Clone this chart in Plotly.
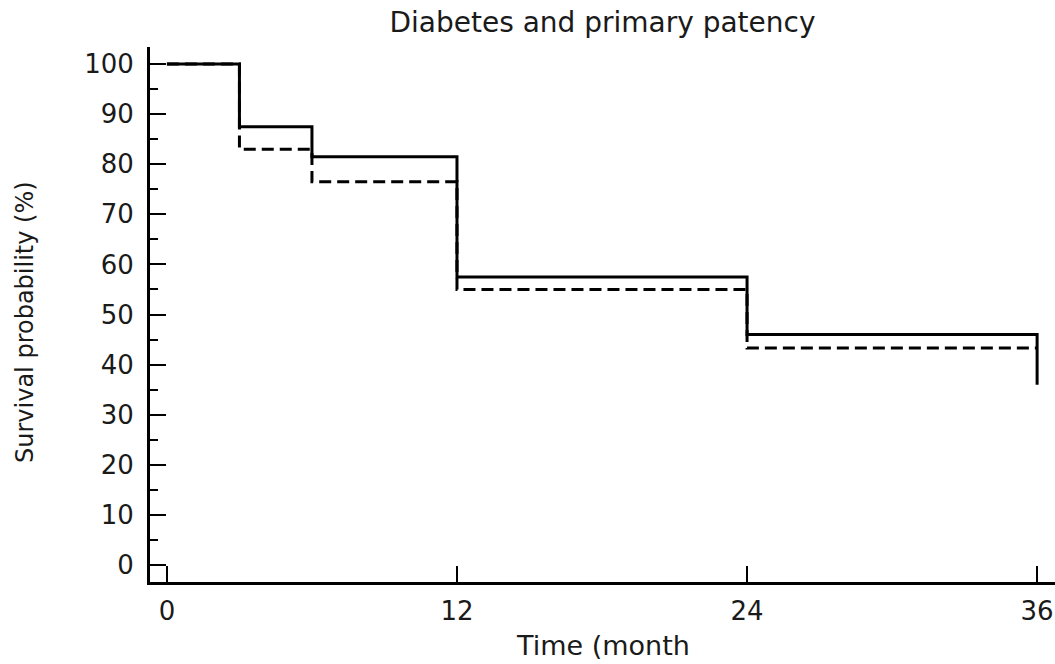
import plotly.graph_objects as go

# Kaplan-Meier style step data (time in months, survival %)
solid_time = [0, 3, 6, 12, 24, 36, 36]
solid_surv = [100, 87.5, 81.5, 57.5, 46, 46, 36]

dashed_time = [0, 3, 6, 12, 24, 36]
dashed_surv = [100, 83, 76.5, 55, 43.3, 43.3]

x_ticks = [0, 12, 24, 36]
y_ticks = list(range(0, 101, 10))

title_text = "Diabetes and primary patency"
x_title = "Time (month"
y_title = "Survival probability (%)"

FONT = "DejaVu Sans, Verdana, sans-serif"
TXT = "#1a1a1a"
FS = 26

fig = go.Figure()
fig.add_trace(go.Scatter(
    x=dashed_time, y=dashed_surv, mode="lines", line_shape="hv",
    line=dict(color="black", width=3, dash="12px,6px"), showlegend=False))
fig.add_trace(go.Scatter(
    x=solid_time, y=solid_surv, mode="lines", line_shape="hv",
    line=dict(color="black", width=3), showlegend=False))

fig.update_layout(
    width=1055, height=664,
    margin=dict(l=150, r=0, t=47, b=82),
    paper_bgcolor="white", plot_bgcolor="white",
    font=dict(family=FONT, size=FS, color=TXT),
    title=dict(text=title_text, x=0.5, xref="paper", y=1 - 22 / 664,
               yanchor="middle", xanchor="center",
               font=dict(family=FONT, size=28, color=TXT)),
    showlegend=False,
)

fig.update_xaxes(
    range=[-0.70, 36.74], tickvals=x_ticks, ticktext=[str(v) for v in x_ticks],
    ticks="inside", ticklen=16, tickwidth=2, tickcolor="black",
    showline=True, linecolor="black", linewidth=3,
    showgrid=False, zeroline=False,
    tickfont=dict(family=FONT, size=FS, color=TXT),
    ticklabelstandoff=4,
)
fig.update_yaxes(
    range=[-3.39, 103.4], tickvals=y_ticks, ticktext=[str(v) for v in y_ticks],
    ticks="inside", ticklen=16, tickwidth=2, tickcolor="black",
    minor=dict(ticks="inside", ticklen=8, tickwidth=2, tickcolor="black", dtick=5, tick0=0, showgrid=False),
    showline=True, linecolor="black", linewidth=3,
    showgrid=False, zeroline=False,
    tickfont=dict(family=FONT, size=FS, color=TXT),
    ticklabelstandoff=8,
)

fig.add_annotation(text=x_title, xref="paper", yref="paper", x=0.5, y=0,
                   xanchor="center", yanchor="middle", yshift=-63, showarrow=False,
                   font=dict(family=FONT, size=27, color=TXT))
fig.add_annotation(text=y_title, xref="paper", yref="paper", x=0, y=0.486,
                   xanchor="center", yanchor="middle", xshift=-125, textangle=-90,
                   showarrow=False, font=dict(family=FONT, size=24, color=TXT))

fig.write_html("out.html")
